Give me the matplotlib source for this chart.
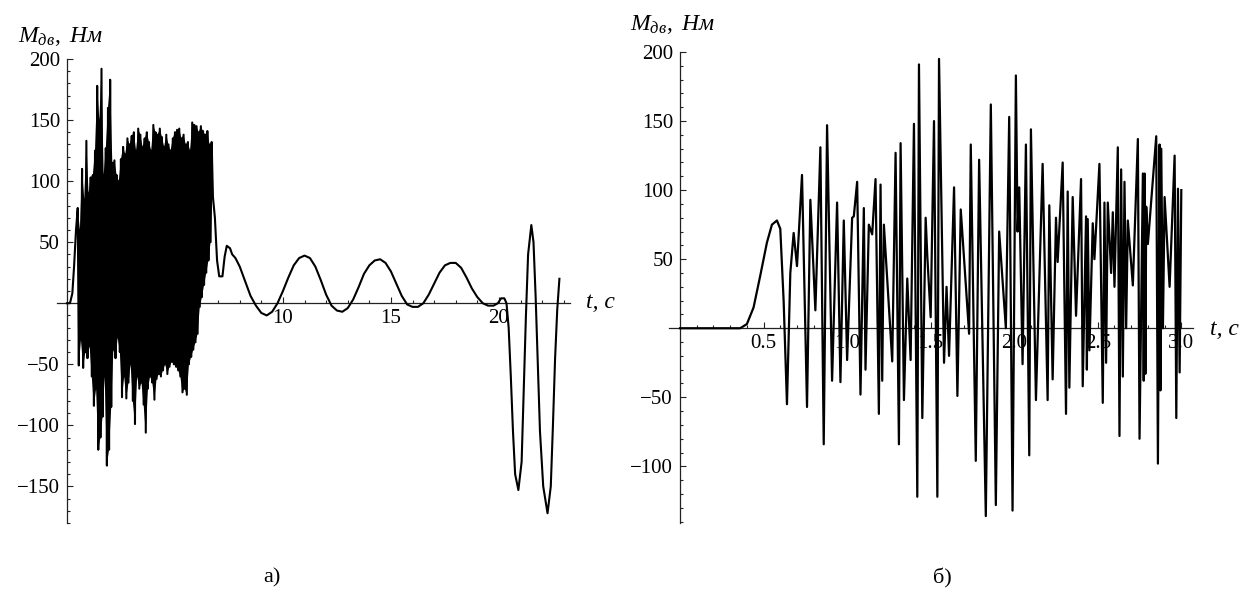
import matplotlib
matplotlib.use("Agg")
import matplotlib.pyplot as plt
from matplotlib.ticker import FixedLocator

plt.rcParams['font.family'] = ['Liberation Serif', 'DejaVu Serif']
plt.rcParams['mathtext.fontset'] = 'custom'
plt.rcParams['mathtext.rm'] = 'Liberation Serif'
plt.rcParams['mathtext.it'] = 'Liberation Serif:italic'

# ---- а) момент двигателя, 0..23 с ----
A_RISE_T = [0.0, 0.14, 0.25, 0.33, 0.42]
A_RISE_M = [0, 0, 8, 30, 60]

A_PEAK_T = [0.5, 0.6, 0.7, 0.8, 0.9, 1.0, 1.1, 1.2, 1.3, 1.4,
            1.5, 1.6, 1.7, 1.8, 1.9, 2.0, 2.1, 2.2, 2.3, 2.4,
            2.5, 2.6, 2.7, 2.8, 2.9, 3.0, 3.1, 3.2, 3.3, 3.4,
            3.5, 3.6, 3.7, 3.8, 3.9, 4.0, 4.1, 4.2, 4.3, 4.4,
            4.5, 4.6, 4.7, 4.8, 4.9, 5.0, 5.1, 5.2, 5.3, 5.4,
            5.5, 5.6, 5.7, 5.8, 5.9, 6.0, 6.1, 6.2, 6.3, 6.4,
            6.5, 6.6, 6.7]
A_PEAK_M = [78, 60, 110, 85, 133, 90, 103, 105, 125, 178,
            150, 192, 105, 127, 160, 183, 115, 117, 105, 100,
            118, 128, 122, 135, 130, 137, 140, 125, 143, 138,
            128, 135, 140, 132, 125, 146, 140, 138, 143, 136,
            128, 138, 130, 125, 135, 140, 142, 143, 135, 138,
            130, 132, 125, 148, 146, 145, 140, 145, 141, 138,
            141, 130, 132]

A_TROUGH_T = [0.55, 0.65, 0.75, 0.85, 0.95, 1.05, 1.15, 1.25, 1.35, 1.45,
              1.55, 1.65, 1.75, 1.85, 1.95, 2.05, 2.15, 2.25, 2.35, 2.45,
              2.55, 2.65, 2.75, 2.85, 2.95, 3.05, 3.15, 3.25, 3.35, 3.45,
              3.55, 3.65, 3.75, 3.85, 3.95, 4.05, 4.15, 4.25, 4.35, 4.45,
              4.55, 4.65, 4.75, 4.85, 4.95, 5.05, 5.15, 5.25, 5.35, 5.45,
              5.55, 5.65, 5.75, 5.85, 5.95, 6.05, 6.15, 6.25, 6.35, 6.45,
              6.55, 6.65]
A_TROUGH_M = [-51, -30, -53, -40, -45, -35, -60, -84, -70, -120,
              -110, -93, -60, -133, -120, -85, -38, -45, -28, -40,
              -77, -60, -78, -65, -50, -80, -99, -60, -70, -65,
              -83, -106, -70, -60, -65, -79, -62, -58, -60, -55,
              -50, -58, -52, -48, -50, -52, -55, -60, -73, -70,
              -75, -50, -44, -38, -32, -25, -3, 5, 15, 25,
              35, 50]

A_TAIL_T = [6.76, 6.85, 6.95, 7.05, 7.2, 7.3, 7.4, 7.55, 7.65, 7.8,
            8.0, 8.25, 8.5, 8.75, 9.0, 9.25, 9.5, 9.75, 10.0, 10.25,
            10.5, 10.75, 11.0, 11.25, 11.5, 11.75, 12.0, 12.25, 12.5, 12.75,
            13.0, 13.25, 13.5, 13.75, 14.0, 14.25, 14.5, 14.75, 15.0, 15.25,
            15.5, 15.75, 16.0, 16.25, 16.5, 16.75, 17.0, 17.25, 17.5, 17.75,
            18.0, 18.25, 18.5, 18.75, 19.0, 19.25, 19.5, 19.75,
            19.95, 20.1, 20.25, 20.35, 20.45, 20.55, 20.65, 20.75, 20.9,
            21.05, 21.15, 21.25, 21.35, 21.5, 21.6, 21.7, 21.8, 21.9,
            22.05, 22.25, 22.4, 22.5, 22.6, 22.7, 22.8]
A_TAIL_M = [87, 70, 35, 22, 22, 38, 47, 45, 40, 37,
            30, 18, 6, -2, -8, -10, -7, 0, 10, 21,
            31, 37, 39, 37, 30, 19, 7, -2, -6, -7,
            -4, 3, 13, 24, 31, 35, 36, 33, 26, 16,
            6, -1, -3, -3, 0, 7, 16, 25, 31, 33,
            33, 29, 21, 12, 5, 0, -2, -2,
            0, 4, 4, 0, -20, -60, -105, -140, -153,
            -130, -70, -10, 40, 64, 50, 5, -50, -105,
            -150, -172, -150, -100, -45, -5, 20]

A_XTICKS = [5, 10, 15, 20]
A_XLABELS = ['', '10', '15', '20']
A_YTICKS = [-150, -100, -50, 50, 100, 150, 200]

# ---- б) момент двигателя, 0..3 с ----
B_T = [0.00, 0.36, 0.40, 0.44, 0.48, 0.52, 0.55, 0.58, 0.60, 0.62,
       0.64, 0.66, 0.68, 0.70, 0.73, 0.76, 0.78, 0.81, 0.84, 0.86,
       0.88, 0.91, 0.94, 0.96, 0.98, 1.00, 1.03, 1.04, 1.06, 1.08,
       1.10, 1.11, 1.13, 1.15, 1.17, 1.19, 1.20, 1.21, 1.22, 1.27,
       1.29, 1.31, 1.32, 1.34, 1.36, 1.38, 1.40, 1.42, 1.43, 1.45,
       1.47, 1.48, 1.50, 1.52, 1.54, 1.55, 1.58, 1.595, 1.61, 1.64,
       1.66, 1.68, 1.73, 1.74, 1.77, 1.79, 1.83, 1.86, 1.89, 1.91,
       1.95, 1.97, 1.99, 2.01, 2.02, 2.03, 2.05, 2.07, 2.09, 2.10,
       2.13, 2.17, 2.20, 2.21, 2.23, 2.25, 2.26, 2.29, 2.31, 2.32,
       2.33, 2.35, 2.37, 2.40, 2.41, 2.43, 2.435, 2.44, 2.45, 2.47,
       2.48, 2.51, 2.53, 2.54, 2.55, 2.56, 2.58, 2.59, 2.60, 2.62,
       2.63, 2.64, 2.65, 2.66, 2.67, 2.68, 2.71, 2.74, 2.75, 2.77,
       2.775, 2.78, 2.785, 2.79, 2.80, 2.85, 2.86, 2.87, 2.875, 2.88,
       2.89, 2.90, 2.93, 2.96, 2.97, 2.98, 2.99, 3.00]
B_M = [0, 0, 3, 15, 38, 62, 75, 78, 72, 20,
       -55, 40, 69, 45, 111, -57, 93, 13, 131, -84,
       147, -38, 91, -39, 78, -23, 80, 81, 106, -48,
       87, -30, 75, 68, 108, -62, 104, -38, 75, -24,
       127, -84, 134, -52, 36, -23, 148, -122, 191, -65,
       80, 52, 8, 150, -122, 195, -25, 30, -20, 102,
       -49, 86, -4, 133, -96, 122, -136, 162, -128, 70,
       0, 153, -132, 183, 70, 102, -26, 133, -92, 144,
       -52, 119, -52, 89, -37, 80, 48, 120, -62, 99,
       -43, 95, 9, 108, -42, 81, -30, 79, -16, 76,
       50, 119, -54, 91, -25, 91, 40, 84, 30, 131,
       -78, 115, -35, 106, 0, 78, 31, 137, -80, 112,
       -38, 112, -33, 88, 61, 139, -98, 133, -45, 130,
       0, 95, 30, 125, -65, 101, -32, 100]

B_XTICKS = [0.5, 1.0, 1.5, 2.0, 2.5, 3.0]
B_YTICKS = [-100, -50, 50, 100, 150, 200]

W, H = 1252, 592
FS = 15


def px_axes(fig, x0, x1, y_top, y_bot):
    return fig.add_axes([x0 / W, 1 - y_bot / H, (x1 - x0) / W, (y_bot - y_top) / H])


def math_axes(ax, xlim, ylim, xmaj, xlab, xmin, ymaj, ymin):
    ax.set_xlim(*xlim)
    ax.set_ylim(*ylim)
    for s in ['top', 'right']:
        ax.spines[s].set_visible(False)
    ax.spines['left'].set_position(('data', 0))
    ax.spines['bottom'].set_position(('data', 0))
    for s in ['left', 'bottom']:
        ax.spines[s].set_linewidth(0.9)
        ax.spines[s].set_color('#222222')
    ax.set_xticks(xmaj)
    ax.set_xticklabels(xlab)
    ax.xaxis.set_minor_locator(FixedLocator(xmin))
    ax.set_yticks(ymaj)
    ax.set_yticklabels([str(v).replace('-', '\u2212') for v in ymaj])
    ax.yaxis.set_minor_locator(FixedLocator(ymin))
    ax.tick_params(which='both', direction='in', colors='#222222', labelsize=FS,
                   labelcolor='black', width=0.8)
    ax.tick_params(which='major', length=4.5)
    ax.tick_params(which='minor', length=2.5)
    ax.tick_params(axis='x', pad=4)
    ax.tick_params(axis='y', pad=5)


fig = plt.figure(figsize=(W / 100, H / 100), dpi=100)

# а)
ax1 = px_axes(fig, 57, 570, 59, 523)
# плотная часть колебаний: область между огибающими пиков и впадин
ax1.fill(A_PEAK_T + A_TROUGH_T[::-1], A_PEAK_M + A_TROUGH_M[::-1],
         color='black', lw=0, zorder=3)
t_a = A_RISE_T + A_PEAK_T + A_TROUGH_T + A_TAIL_T
m_a = A_RISE_M + A_PEAK_M + A_TROUGH_M + A_TAIL_M
order = sorted(range(len(t_a)), key=lambda i: t_a[i])
ax1.plot([t_a[i] for i in order], [m_a[i] for i in order], color='black', lw=1.5,
         zorder=3, solid_joinstyle='round')
math_axes(ax1, (-0.46, 23.29), (-180, 200), A_XTICKS, A_XLABELS,
          [v for v in range(1, 24) if v % 5], A_YTICKS,
          [v for v in range(-180, 201, 10) if v % 50 and v])

# б)
ax2 = px_axes(fig, 669, 1193, 52, 523)
ax2.plot(B_T, B_M, color='black', lw=1.6, zorder=3, solid_joinstyle='round')
math_axes(ax2, (-0.066, 3.07), (-141, 200), B_XTICKS, [f'{v:.1f}' for v in B_XTICKS],
          [k / 10 for k in range(1, 31) if k % 5], B_YTICKS,
          [v for v in range(-140, 201, 10) if v % 50 and v])

# подписи осей
ylab = r'$M_{\mathit{дв}}\mathit{,\ Нм}$'
fig.text(18 / W, 1 - 42 / H, ylab, fontsize=17, va='baseline', ha='left')
fig.text(630 / W, 1 - 30 / H, ylab, fontsize=17, va='baseline', ha='left')
fig.text(586 / W, 1 - 308 / H, 't, c', fontsize=17, style='italic', va='baseline')
fig.text(1210 / W, 1 - 335 / H, 't, c', fontsize=17, style='italic', va='baseline')

fig.text(272 / W, 1 - 578 / H, 'а)', fontsize=16, ha='center', va='center')
fig.text(942 / W, 1 - 578 / H, 'б)', fontsize=16, ha='center', va='center')

fig.savefig('out.png', dpi=100)
